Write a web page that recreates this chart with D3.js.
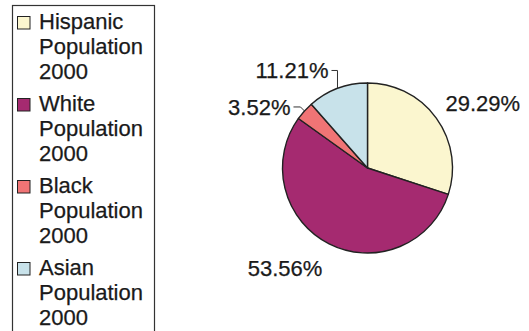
<!DOCTYPE html>
<html>
<head>
<meta charset="utf-8">
<script src="https://cdn.jsdelivr.net/npm/d3@7"></script>
<style>
  html, body { margin: 0; padding: 0; background: #ffffff; }
  svg { display: block; }
  text { font-family: "Liberation Sans", Arial, Helvetica, sans-serif; fill: #1a1a1a; stroke: #1a1a1a; stroke-width: 0.25px; }
</style>
</head>
<body>
<svg id="chart" width="529" height="331"></svg>
<script>
// Population shares, 2000
const groups = ["Hispanic", "White", "Black", "Asian"];
const shares = [29.29, 53.56, 3.52, 11.21];
const legendLines = ["Population", "2000"];
const colors = ["#fbf6cf", "#a52a70", "#f07475", "#c8e2ea"];

const svg = d3.select("#chart");
const W = 529, H = 331;

// ---- Legend box ----
const legend = svg.append("g");
legend.append("rect")
  .attr("x", 12.5).attr("y", 5.5)
  .attr("width", 142).attr("height", H + 10)
  .attr("fill", "#ffffff")
  .attr("stroke", "#333")
  .attr("stroke-width", 1.2);

const itemStep = 82, lineStep = 24.8, firstBaseline = 29;
const fontSize = 22;

groups.forEach((g, i) => {
  const base = firstBaseline + i * itemStep;
  legend.append("rect")
    .attr("x", 17.5).attr("y", base - 12.5)
    .attr("width", 12.5).attr("height", 12.5)
    .attr("fill", colors[i])
    .attr("stroke", "#222")
    .attr("stroke-width", 1);
  const lines = [g].concat(legendLines);
  lines.forEach((t, j) => {
    legend.append("text")
      .attr("x", 39)
      .attr("y", base + j * lineStep)
      .attr("font-size", fontSize)
      .text(t);
  });
});

// ---- Pie ----
const cx = 367.5, cy = 168, r = 85;
const pie = d3.pie().sort(null).value(d => d.value);
const data = groups.map((g, i) => ({ name: g, value: shares[i], color: colors[i] }));
const arcs = pie(data);
const arc = d3.arc().innerRadius(0).outerRadius(r);
const edge = d3.arc().innerRadius(r).outerRadius(r);

const pieG = svg.append("g").attr("transform", `translate(${cx},${cy})`);
pieG.selectAll("path.slice")
  .data(arcs)
  .enter().append("path")
  .attr("class", "slice")
  .attr("d", arc)
  .attr("fill", d => d.data.color)
  .attr("stroke", "#222")
  .attr("stroke-width", 1.4)
  .attr("stroke-linejoin", "round");

const fmt = v => v.toFixed(2) + "%";
const mid = d => (d.startAngle + d.endAngle) / 2;

// Large slices: label placed just outside the rim
const outer = d3.arc().innerRadius(r + 15).outerRadius(r + 15);
arcs.filter(d => d.data.name === "Hispanic" || d.data.name === "White").forEach(d => {
  const [x, y] = outer.centroid(d);
  const a = mid(d);
  pieG.append("text")
    .attr("x", x + (Math.sin(a) > 0 ? -3 : 0))
    .attr("y", y)
    .attr("dy", (0.4 - 0.52 * Math.cos(a)) + "em")
    .attr("text-anchor", Math.sin(a) > 0 ? "start" : "end")
    .attr("font-size", fontSize)
    .text(fmt(d.data.value));
});

// Small slices: elbow leader lines
const leaders = {
  Asian: [[0, -18], [-6, -18]],
  Black: [[-4, -4], [-11, -4]]
};
arcs.filter(d => leaders[d.data.name]).forEach(d => {
  const [ex, ey] = edge.centroid(d);
  const pts = [[ex, ey]].concat(leaders[d.data.name].map(([dx, dy]) => [ex + dx, ey + dy]));
  pieG.append("path")
    .attr("d", d3.line()(pts))
    .attr("fill", "none")
    .attr("stroke", "#333")
    .attr("stroke-width", 1);
  const last = pts[pts.length - 1];
  pieG.append("text")
    .attr("x", last[0] - 3)
    .attr("y", last[1])
    .attr("dy", "0.36em")
    .attr("text-anchor", "end")
    .attr("font-size", fontSize)
    .text(fmt(d.data.value));
});
</script>
</body>
</html>
